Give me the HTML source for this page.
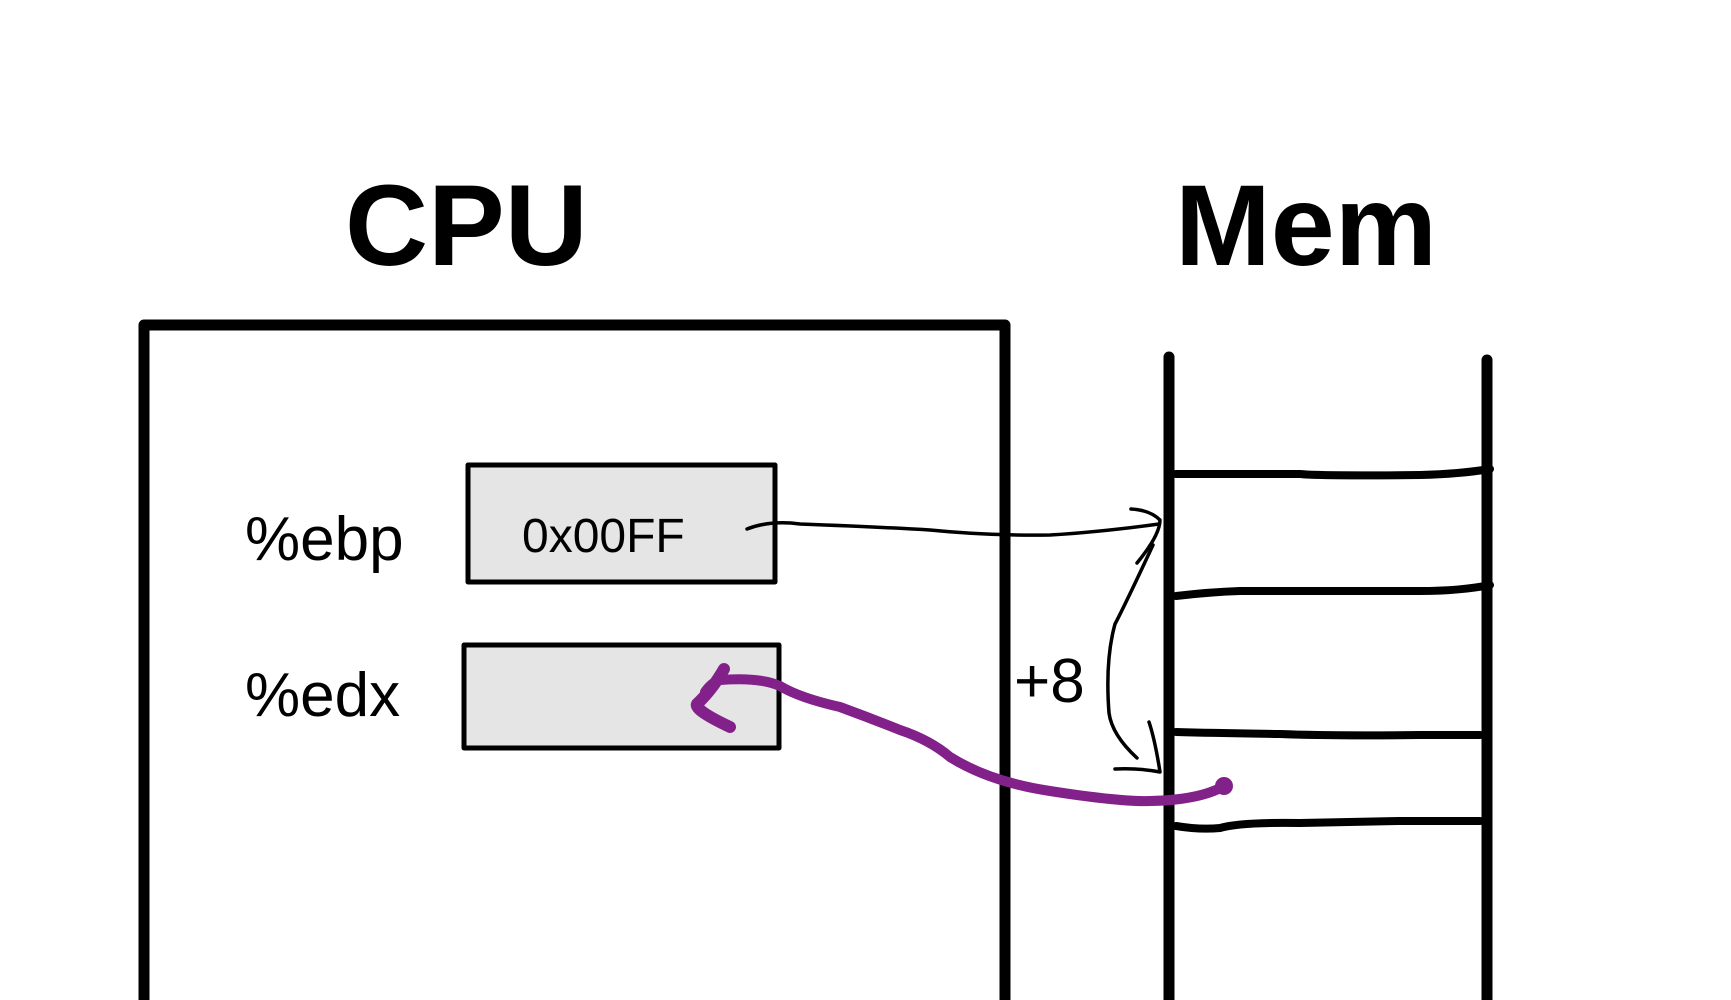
<!DOCTYPE html>
<html><head><meta charset="utf-8"><style>
html,body{margin:0;padding:0;background:#fff;width:1731px;height:1000px;overflow:hidden}
svg{display:block}
text{font-family:"Liberation Sans",sans-serif;fill:#000}
</style></head><body>
<svg width="1731" height="1000" viewBox="0 0 1731 1000" xmlns="http://www.w3.org/2000/svg">
<g fill="none" stroke="#000" stroke-linecap="round" stroke-linejoin="round">
<path d="M144 1010 V325 H1005 V1010" stroke-width="11"/>
<path d="M1169 357 V1010" stroke-width="11"/>
<path d="M1487 360 V1010" stroke-width="11"/>
<path d="M1176 474 H1300 Q1320 476 1420 475 Q1460 474 1490 469" stroke-width="8"/>
<path d="M1176 596 Q1210 592 1240 591 H1420 Q1460 591 1490 585" stroke-width="8"/>
<path d="M1176 732 Q1210 733 1280 734 Q1330 736 1420 735 H1480" stroke-width="8"/>
<path d="M1176 826 Q1200 830 1220 828 Q1240 822 1300 823 Q1360 822 1400 821 H1480" stroke-width="8"/>
<rect x="468" y="465" width="307" height="117" fill="#e5e5e5" stroke-width="5"/>
<rect x="464" y="645" width="315" height="103" fill="#e5e5e5" stroke-width="5"/>
<path d="M747 529 Q770 520 800 524 Q880 527 930 530 Q990 536 1050 535 Q1100 532 1159 524" stroke-width="3.5"/>
<path d="M1131 509 Q1150 510 1160 520 Q1160 535 1137 563" stroke-width="3.5"/>
<path d="M1153 545 Q1125 605 1115 624 Q1105 660 1109 713 Q1112 735 1137 758" stroke-width="3.5"/>
<path d="M1149 722 Q1155 740 1160 772 Q1140 768 1115 769" stroke-width="3.5"/>
</g>
<g fill="none" stroke="#83218a" stroke-linecap="round" stroke-linejoin="round">
<path d="M1224 786 Q1200 800 1150 801 Q1120 802 1050 791 Q990 782 950 757 Q930 740 900 730 Q870 718 840 707 Q800 698 780 686 Q760 677 720 680 Q712 682 705 692" stroke-width="10"/>
<path d="M724 669 Q712 690 697 704 Q694 710 730 727" stroke-width="12"/>
<circle cx="1224" cy="786" r="9" fill="#83218a" stroke="none"/>
</g>
<text x="345" y="265" font-size="115" font-weight="bold">CPU</text>
<text x="1175" y="265" font-size="115" font-weight="bold">Mem</text>
<text x="245" y="560" font-size="62">%ebp</text>
<text x="245" y="716" font-size="62">%edx</text>
<text x="522" y="552" font-size="48">0x00FF</text>
<text x="1014" y="702" font-size="62">+8</text>
</svg>
</body></html>
